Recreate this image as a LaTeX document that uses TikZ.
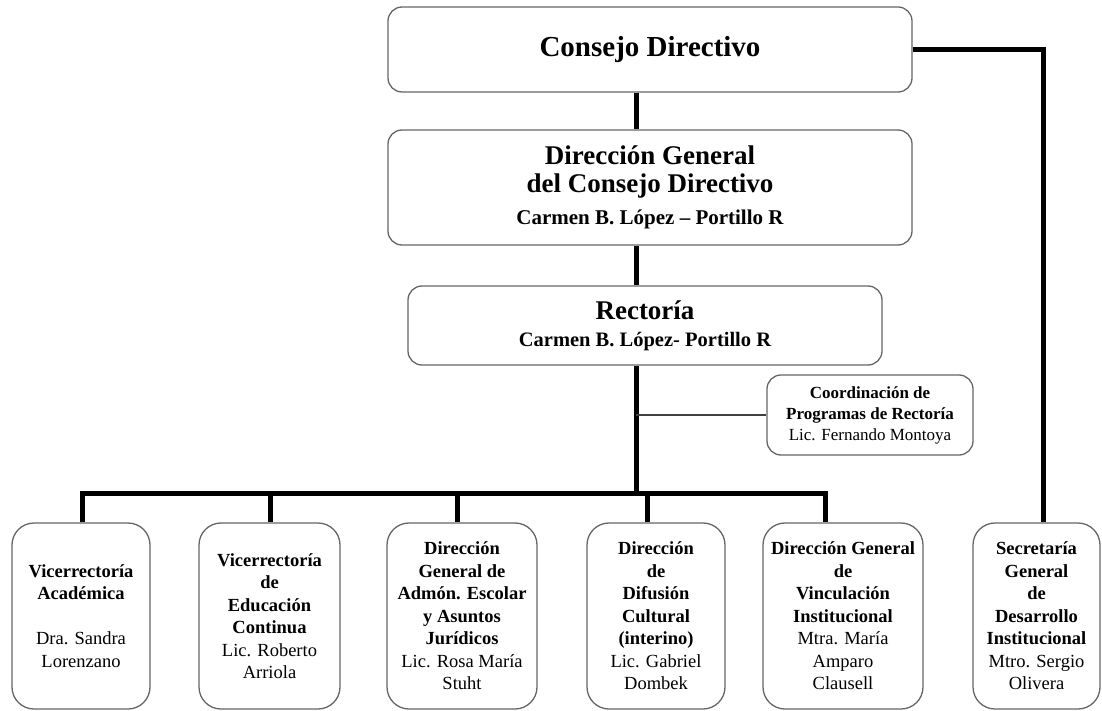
\documentclass[tikz,border=0pt]{standalone}
\usepackage{fontspec}
\setmainfont{Liberation Serif}
\begin{document}
\begin{tikzpicture}[x=1pt,y=-1pt]
\tikzset{
  box/.style={draw=black!60, line width=1.3pt, rounded corners=14pt, fill=white,
              align=center, inner sep=0pt},
  lowbox/.style={box, rounded corners=22pt, minimum height=186pt,
                 font=\fontsize{18.5}{22.5}\selectfont},
  trunk/.style={line width=5pt},
  twig/.style={line width=1.3pt, draw=black!75},
}
\useasboundingbox (0,0) rectangle (1102,711);

% governing bodies
\node[box, minimum width=524pt, minimum height=85pt,
      font=\fontsize{29}{32}\selectfont\bfseries] (cd) at (650,49.5)
  {Consejo Directivo};
\node[box, minimum width=524pt, minimum height=115pt,
      font=\fontsize{27}{28}\selectfont\bfseries] (dg) at (650,187.5)
  {Dirección General\\ del Consejo Directivo\\[4pt]
   {\fontsize{21}{24}\selectfont Carmen B. López – Portillo R}};
\node[box, minimum width=474pt, minimum height=79pt,
      font=\fontsize{27}{27}\selectfont\bfseries] (rec) at (645,325.5)
  {Rectoría\\ {\fontsize{20.5}{24}\selectfont Carmen B. López- Portillo R}};
\node[box, minimum width=206pt, minimum height=80pt,
      font=\fontsize{17}{21}\selectfont\bfseries] (crd) at (870,415)
  {Coordinación de\\ Programas de Rectoría\\
   {\mdseries\fontsize{17}{21}\selectfont Lic. Fernando Montoya}};

% units under the rectorate
\node[lowbox, minimum width=138pt] (b1) at (81,616)
  {\textbf{Vicerrectoría}\\ \textbf{Académica}\\[22.5pt] Dra. Sandra\\ Lorenzano};
\node[lowbox, minimum width=141pt] (b2) at (269.5,616)
  {\textbf{Vicerrectoría}\\ \textbf{de}\\ \textbf{Educación}\\ \textbf{Continua}\\
   Lic. Roberto\\ Arriola};
\node[lowbox, minimum width=150pt] (b3) at (462,616)
  {\textbf{Dirección}\\ \textbf{General de}\\ \textbf{Admón. Escolar}\\
   \textbf{y Asuntos}\\ \textbf{Jurídicos}\\ Lic. Rosa María\\ Stuht};
\node[lowbox, minimum width=138pt] (b4) at (656,616)
  {\textbf{Dirección}\\ \textbf{de}\\ \textbf{Difusión}\\ \textbf{Cultural}\\
   \textbf{(interino)}\\ Lic. Gabriel\\ Dombek};
\node[lowbox, minimum width=160pt] (b5) at (843,616)
  {\textbf{Dirección General}\\ \textbf{de}\\ \textbf{Vinculación}\\
   \textbf{Institucional}\\ Mtra. María\\ Amparo\\ Clausell};
\node[lowbox, minimum width=127pt] (b6) at (1036.5,616)
  {\textbf{Secretaría}\\ \textbf{General}\\ \textbf{de}\\ \textbf{Desarrollo}\\
   \textbf{Institucional}\\ Mtro. Sergio\\ Olivera};

% routing coordinates
\coordinate (spine) at (636,0);
\coordinate (bus) at (0,493);
\coordinate (d1) at (82,0);
\coordinate (d2) at (270,0);
\coordinate (d3) at (457,0);
\coordinate (d4) at (647,0);
\coordinate (d5) at (825,0);
\coordinate (d6) at (1043,0);

% connectors
\draw[trunk] (cd.south -| spine) -- (dg.north -| spine);
\draw[trunk] (dg.south -| spine) -- (rec.north -| spine);
\draw[trunk] (rec.south -| spine) -- (bus -| spine);
\draw[twig] (spine |- crd.west) -- (crd.west);
\draw[trunk] (b1.north -| d1) -- (bus -| d1) -- (bus -| d5) -- (b5.north -| d5);
\draw[trunk] (bus -| d2) -- (b2.north -| d2);
\draw[trunk] (bus -| d3) -- (b3.north -| d3);
\draw[trunk] (bus -| d4) -- (b4.north -| d4);
\draw[trunk] (cd.east) -| (b6.north -| d6);
\end{tikzpicture}
\end{document}
